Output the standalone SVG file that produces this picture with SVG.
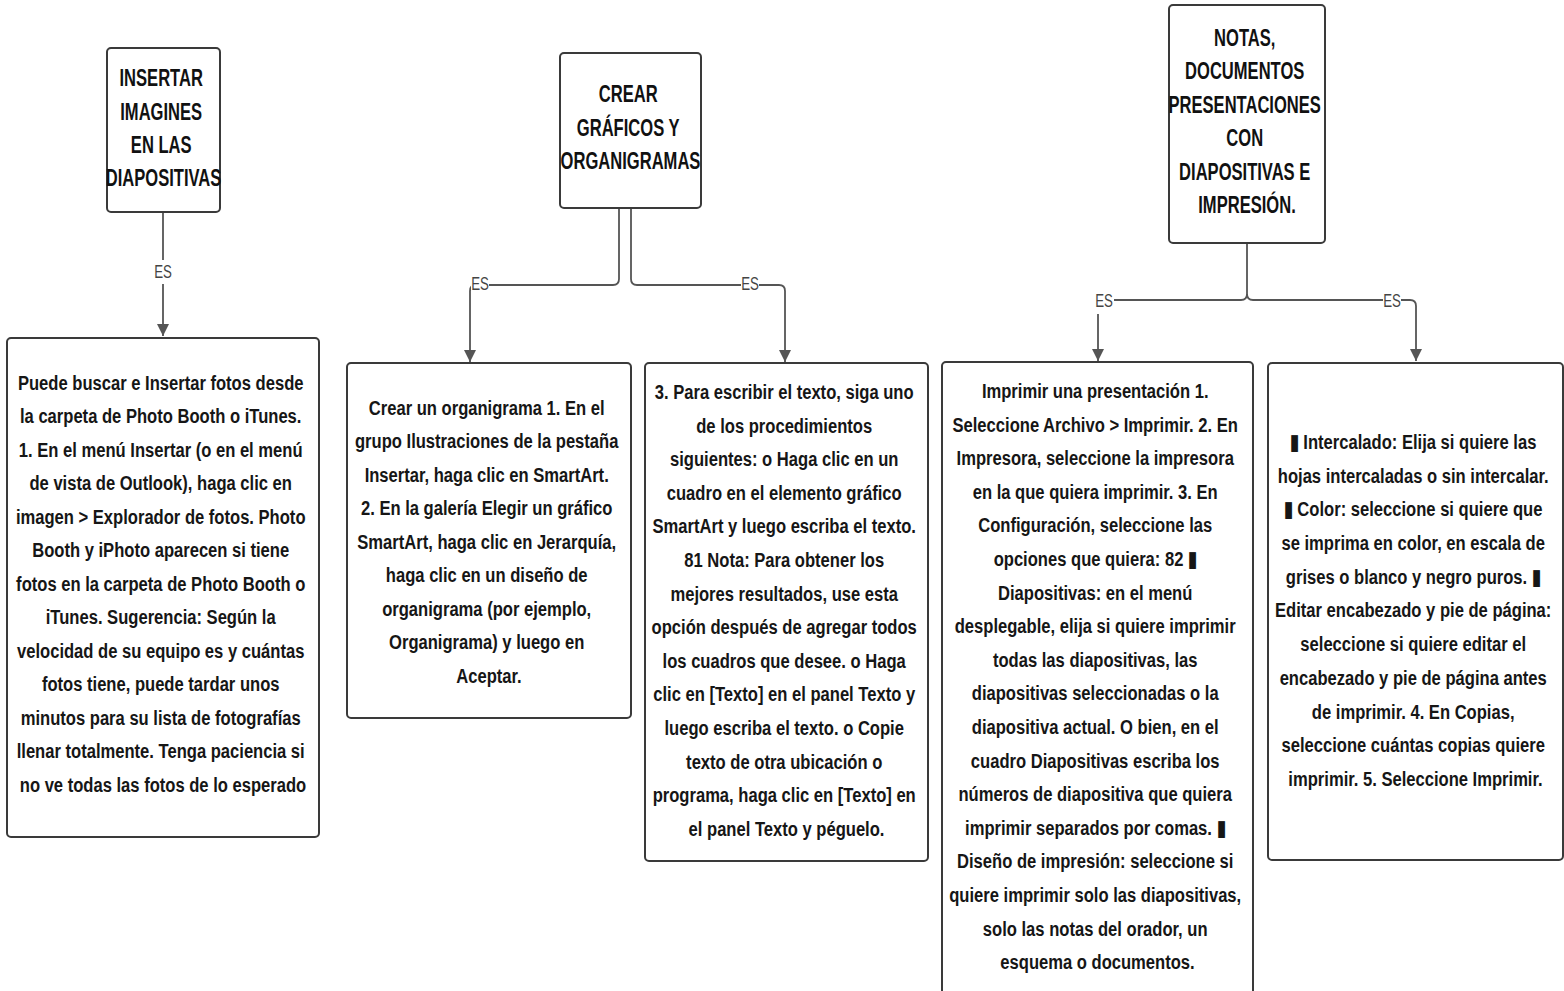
<svg xmlns="http://www.w3.org/2000/svg" width="1564" height="991" viewBox="0 0 1564 991">
<style>
.box{fill:#fff;stroke:#3a3a3a;stroke-width:2}
.title{font-family:"Liberation Sans",Arial,sans-serif;font-weight:bold;font-size:23px;fill:#111;text-anchor:middle}
.body{font-family:"Liberation Sans",Arial,sans-serif;font-weight:bold;font-size:21px;fill:#161616;text-anchor:middle}
.conn{fill:none;stroke:#555;stroke-width:1.8}
.lbl{font-family:"Liberation Sans",Arial,sans-serif;font-size:19px;fill:#444;text-anchor:middle}
.lblbg{fill:#fff}
</style>
<defs>
<marker id="arr" markerUnits="userSpaceOnUse" markerWidth="12" markerHeight="16" viewBox="0 0 12 16" refX="12" refY="6" orient="auto">
<path d="M0,0 L12,6 L0,12 Z" fill="#555"/>
</marker>
</defs>
<rect width="1564" height="991" fill="#fff"/>

<g id="connectors">
<path class="conn" d="M163,212 V336" marker-end="url(#arr)"/>
<path class="conn" d="M619,208 V279 Q619,285 613,285 H476 Q470,285 470,291 V362" marker-end="url(#arr)"/>
<path class="conn" d="M631,208 V279 Q631,285 637,285 H779 Q785,285 785,291 V362" marker-end="url(#arr)"/>
<path class="conn" d="M1247,243 V294 Q1247,300 1241,300 H1098 V361" marker-end="url(#arr)"/>
<path class="conn" d="M1247,294 Q1247,300 1253,300 H1410 Q1416,300 1416,306 V361" marker-end="url(#arr)"/>
<rect class="lblbg" x="152" y="260" width="22" height="24"/>
<text class="lbl" transform="translate(163,0) scale(0.7,1)" x="0" y="278">ES</text>
<rect class="lblbg" x="471" y="275" width="18" height="17"/>
<text class="lbl" transform="translate(480,0) scale(0.7,1)" x="0" y="290">ES</text>
<rect class="lblbg" x="741" y="275" width="18" height="17"/>
<text class="lbl" transform="translate(750,0) scale(0.7,1)" x="0" y="290">ES</text>
<rect class="lblbg" x="1094" y="291" width="20" height="23"/>
<text class="lbl" transform="translate(1104,0) scale(0.7,1)" x="0" y="307">ES</text>
<rect class="lblbg" x="1383" y="292" width="18" height="16"/>
<text class="lbl" transform="translate(1392,0) scale(0.7,1)" x="0" y="307">ES</text>
</g>

<g id="node-insertar">
<rect class="box" x="107" y="48" width="113" height="164" rx="4"/>
<text class="title" transform="translate(163.5,0) scale(0.72,1)">
<tspan x="0" y="86">INSERTAR</tspan>
<tspan x="0" y="120">IMAGINES</tspan>
<tspan x="0" y="153">EN LAS</tspan>
<tspan x="0" y="186">DIAPOSITIVAS</tspan>
</text>
</g>

<g id="node-crear">
<rect class="box" x="560" y="53" width="141" height="155" rx="4"/>
<text class="title" transform="translate(630.5,0) scale(0.72,1)">
<tspan x="0" y="102">CREAR</tspan>
<tspan x="0" y="136">GRÁFICOS Y</tspan>
<tspan x="0" y="169">ORGANIGRAMAS</tspan>
</text>
</g>

<g id="node-notas">
<rect class="box" x="1169" y="5" width="156" height="238" rx="4"/>
<text class="title" transform="translate(1247,0) scale(0.72,1)">
<tspan x="0" y="46">NOTAS,</tspan>
<tspan x="0" y="79">DOCUMENTOS</tspan>
<tspan x="0" y="113">PRESENTACIONES</tspan>
<tspan x="0" y="146">CON</tspan>
<tspan x="0" y="180">DIAPOSITIVAS E</tspan>
<tspan x="0" y="213">IMPRESIÓN.</tspan>
</text>
</g>

<g id="node-fotos">
<rect class="box" x="7" y="338" width="312" height="499" rx="4"/>
<text class="body" transform="translate(163,0) scale(0.79,1)">
<tspan x="0" y="390">Puede buscar e Insertar fotos desde</tspan>
<tspan x="0" y="423.5">la carpeta de Photo Booth o iTunes.</tspan>
<tspan x="0" y="457">1. En el menú Insertar (o en el menú</tspan>
<tspan x="0" y="490.5">de vista de Outlook), haga clic en</tspan>
<tspan x="0" y="524">imagen &gt; Explorador de fotos. Photo</tspan>
<tspan x="0" y="557.5">Booth y iPhoto aparecen si tiene</tspan>
<tspan x="0" y="591">fotos en la carpeta de Photo Booth o</tspan>
<tspan x="0" y="624.5">iTunes. Sugerencia: Según la</tspan>
<tspan x="0" y="658">velocidad de su equipo es y cuántas</tspan>
<tspan x="0" y="691.5">fotos tiene, puede tardar unos</tspan>
<tspan x="0" y="725">minutos para su lista de fotografías</tspan>
<tspan x="0" y="758.5">llenar totalmente. Tenga paciencia si</tspan>
<tspan x="0" y="792">no ve todas las fotos de lo esperado</tspan>
</text>
</g>

<g id="node-organigrama">
<rect class="box" x="347" y="363" width="284" height="355" rx="4"/>
<text class="body" transform="translate(489,0) scale(0.79,1)">
<tspan x="0" y="415">Crear un organigrama 1. En el</tspan>
<tspan x="0" y="448.5">grupo Ilustraciones de la pestaña</tspan>
<tspan x="0" y="482">Insertar, haga clic en SmartArt.</tspan>
<tspan x="0" y="515.5">2. En la galería Elegir un gráfico</tspan>
<tspan x="0" y="549">SmartArt, haga clic en Jerarquía,</tspan>
<tspan x="0" y="582.5">haga clic en un diseño de</tspan>
<tspan x="0" y="616">organigrama (por ejemplo,</tspan>
<tspan x="0" y="649.5">Organigrama) y luego en</tspan>
<tspan x="0" y="683">Aceptar.</tspan>
</text>
</g>

<g id="node-texto">
<rect class="box" x="645" y="363" width="283" height="498" rx="4"/>
<text class="body" transform="translate(786.5,0) scale(0.79,1)">
<tspan x="0" y="399">3. Para escribir el texto, siga uno</tspan>
<tspan x="0" y="432.6">de los procedimientos</tspan>
<tspan x="0" y="466.2">siguientes: o Haga clic en un</tspan>
<tspan x="0" y="499.8">cuadro en el elemento gráfico</tspan>
<tspan x="0" y="533.4">SmartArt y luego escriba el texto.</tspan>
<tspan x="0" y="567">81 Nota: Para obtener los</tspan>
<tspan x="0" y="600.6">mejores resultados, use esta</tspan>
<tspan x="0" y="634.2">opción después de agregar todos</tspan>
<tspan x="0" y="667.8">los cuadros que desee. o Haga</tspan>
<tspan x="0" y="701.4">clic en [Texto] en el panel Texto y</tspan>
<tspan x="0" y="735">luego escriba el texto. o Copie</tspan>
<tspan x="0" y="768.6">texto de otra ubicación o</tspan>
<tspan x="0" y="802.2">programa, haga clic en [Texto] en</tspan>
<tspan x="0" y="835.8">el panel Texto y péguelo.</tspan>
</text>
</g>

<g id="node-imprimir">
<rect class="box" x="942" y="362" width="311" height="640" rx="4"/>
<text class="body" transform="translate(1097.5,0) scale(0.79,1)">
<tspan x="0" y="398">Imprimir una presentación 1.</tspan>
<tspan x="0" y="431.6">Seleccione Archivo &gt; Imprimir. 2. En</tspan>
<tspan x="0" y="465.2">Impresora, seleccione la impresora</tspan>
<tspan x="0" y="498.8">en la que quiera imprimir. 3. En</tspan>
<tspan x="0" y="532.4">Configuración, seleccione las</tspan>
<tspan x="0" y="566">opciones que quiera: 82 ▮</tspan>
<tspan x="0" y="599.6">Diapositivas: en el menú</tspan>
<tspan x="0" y="633.2">desplegable, elija si quiere imprimir</tspan>
<tspan x="0" y="666.8">todas las diapositivas, las</tspan>
<tspan x="0" y="700.4">diapositivas seleccionadas o la</tspan>
<tspan x="0" y="734">diapositiva actual. O bien, en el</tspan>
<tspan x="0" y="767.6">cuadro Diapositivas escriba los</tspan>
<tspan x="0" y="801.2">números de diapositiva que quiera</tspan>
<tspan x="0" y="834.8">imprimir separados por comas. ▮</tspan>
<tspan x="0" y="868.4">Diseño de impresión: seleccione si</tspan>
<tspan x="0" y="902">quiere imprimir solo las diapositivas,</tspan>
<tspan x="0" y="935.6">solo las notas del orador, un</tspan>
<tspan x="0" y="969.2">esquema o documentos.</tspan>
</text>
</g>

<g id="node-opciones">
<rect class="box" x="1268" y="363" width="295" height="497" rx="4"/>
<text class="body" transform="translate(1415.5,0) scale(0.79,1)">
<tspan x="0" y="449">▮ Intercalado: Elija si quiere las</tspan>
<tspan x="0" y="482.7">hojas intercaladas o sin intercalar.</tspan>
<tspan x="0" y="516.4">▮ Color: seleccione si quiere que</tspan>
<tspan x="0" y="550.1">se imprima en color, en escala de</tspan>
<tspan x="0" y="583.8">grises o blanco y negro puros. ▮</tspan>
<tspan x="0" y="617.5">Editar encabezado y pie de página:</tspan>
<tspan x="0" y="651.2">seleccione si quiere editar el</tspan>
<tspan x="0" y="684.9">encabezado y pie de página antes</tspan>
<tspan x="0" y="718.6">de imprimir. 4. En Copias,</tspan>
<tspan x="0" y="752.3">seleccione cuántas copias quiere</tspan>
<tspan x="0" y="786">imprimir. 5. Seleccione Imprimir.</tspan>
</text>
</g>
</svg>
